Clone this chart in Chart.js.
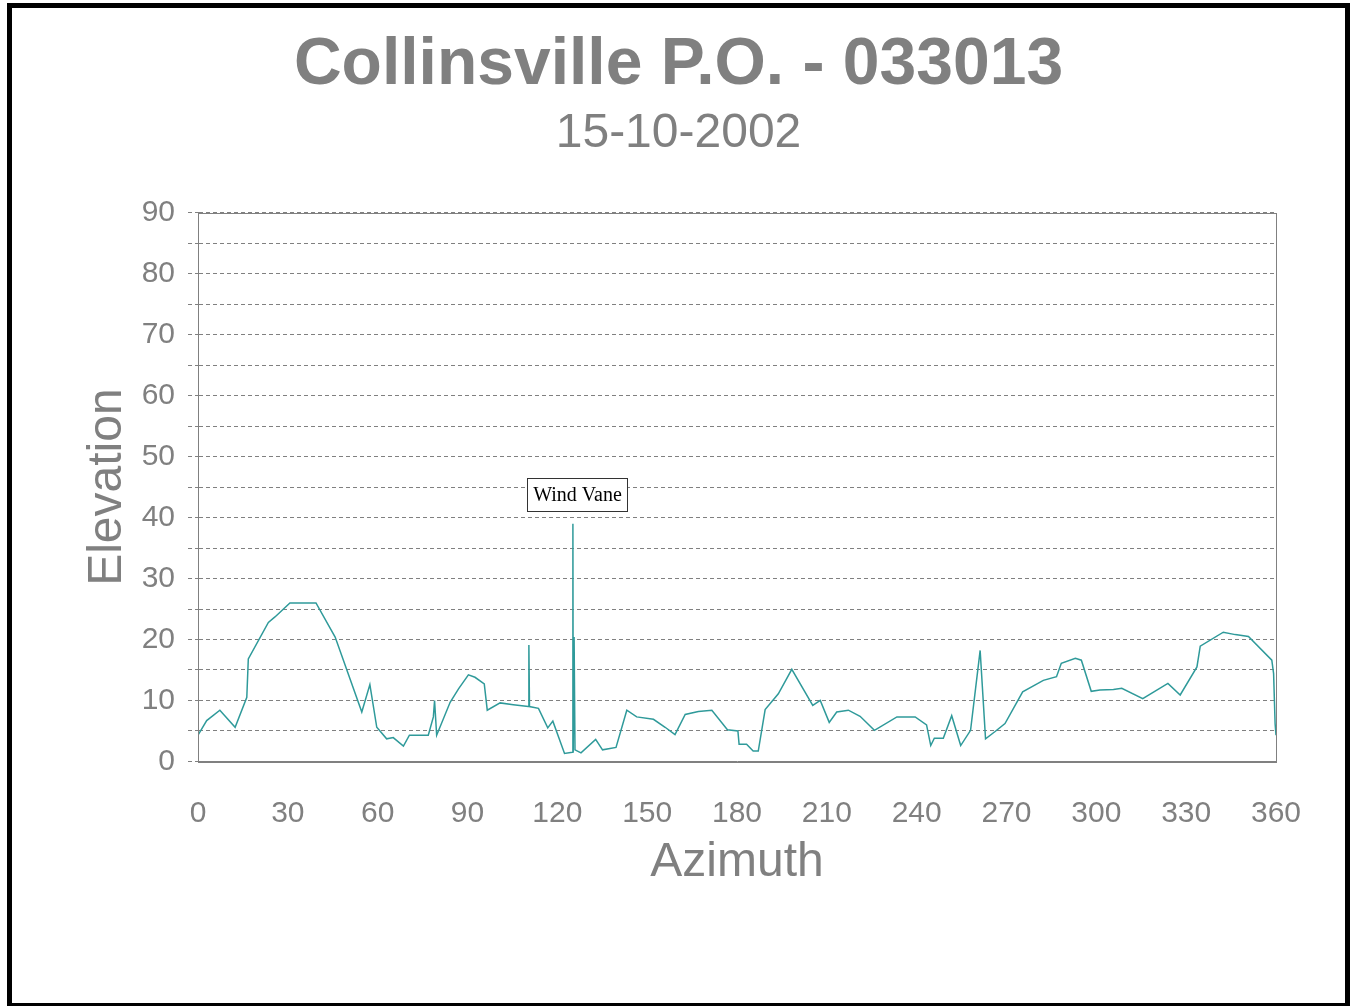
<!DOCTYPE html>
<html>
<head>
<meta charset="utf-8">
<script src="https://cdn.jsdelivr.net/npm/chart.js@4"></script>
<style>
  html, body { margin: 0; padding: 0; background: #fff; }
  #frame {
    position: absolute; left: 7px; top: 3px;
    width: 1333px; height: 995px;
    border-left: 5px solid #000; border-right: 5px solid #000;
    border-top: 5px solid #000; border-bottom: 3px solid #000;
    background: #fff;
  }
  #frame canvas { display: block; }
</style>
</head>
<body>
<div id="frame"><canvas id="chart" width="1333" height="995"></canvas></div>
<script>
// horizon profile
const azimuth = [0, 2.9, 7.3, 12.4, 16.3, 16.8, 23.5, 25.7, 30.7, 39.4, 45.8, 54.7, 57.4, 59.7, 63.0, 65.2, 68.6, 70.6, 76.9, 78.6,
  79.0, 79.7, 84.2, 87.0, 90.3, 92.5, 95.6, 96.6, 100.9, 105.3, 110.3, 110.5, 110.7, 113.7, 116.8, 118.5, 122.4, 125.0, 125.2, 125.3,
  125.6, 125.9, 127.9, 132.8, 135.1, 139.6, 143.2, 146.5, 152.1, 156.0, 159.3, 162.7, 167.1, 171.6, 176.8, 180.3, 180.7, 183.2, 185.4, 187.1,
  189.4, 193.8, 198.3, 205.3, 207.8, 210.8, 213.3, 217.2, 221.1, 225.9, 233.4, 239.5, 243.3, 244.7, 245.9, 248.9, 251.7, 254.7, 258.0, 261.2,
  263.0, 266.2, 269.5, 275.4, 282.3, 286.7, 288.3, 293.0, 295.0, 298.3, 301.2, 305.7, 308.5, 315.5, 323.9, 328.0, 333.6, 334.7, 342.4, 346.4,
  350.8, 358.6, 359.2, 359.7, 360];
const elevation = [4.3, 6.7, 8.4, 5.6, 10.5, 16.8, 22.8, 23.7, 26.0, 26.0, 20.4, 8.1, 12.6, 5.6, 3.7, 3.9, 2.5, 4.3, 4.3, 7.3,
  10.0, 4.3, 9.7, 11.9, 14.2, 13.8, 12.7, 8.4, 9.6, 9.3, 9.0, 19.1, 9.0, 8.7, 5.5, 6.6, 1.3, 1.5, 39.0, 1.5,
  20.4, 1.9, 1.4, 3.6, 1.9, 2.3, 8.4, 7.3, 6.9, 5.6, 4.4, 7.7, 8.2, 8.4, 5.2, 5.0, 2.8, 2.8, 1.7, 1.7,
  8.5, 11.1, 15.1, 9.2, 10.0, 6.4, 8.1, 8.4, 7.4, 5.1, 7.3, 7.3, 6.0, 2.6, 3.8, 3.8, 7.5, 2.6, 5.1, 18.2,
  3.7, 4.9, 6.2, 11.4, 13.3, 13.9, 16.1, 16.9, 16.6, 11.5, 11.7, 11.8, 12.0, 10.3, 12.8, 10.9, 15.5, 18.9, 21.2, 20.8,
  20.5, 16.6, 14.4, 6.2, 4.3];
const xTicks = [0, 30, 60, 90, 120, 150, 180, 210, 240, 270, 300, 330, 360];
const yTicks = [0, 10, 20, 30, 40, 50, 60, 70, 80, 90];
const noteLabel = 'Wind Vane';
const noteAzimuth = 125.2;
const noteElevation = 39.0;

const grey = '#808080';
const font = "'Liberation Sans', Arial, sans-serif";

const points = azimuth.map((a, i) => ({ x: a, y: elevation[i] }));

// solid frame around the plot area + the callout box
const extras = {
  id: 'extras',
  afterDraw(chart) {
    const { ctx, chartArea: a, scales } = chart;
    ctx.save();
    ctx.strokeStyle = grey;
    ctx.lineWidth = 1;
    ctx.strokeRect(Math.round(a.left) + 0.5, Math.round(a.top) + 0.5, Math.round(a.right - a.left), Math.round(a.bottom - a.top));

    const px = scales.x.getPixelForValue(noteAzimuth);
    const py = scales.y.getPixelForValue(noteElevation);
    const w = 100, h = 33;
    const bx = Math.round(px - 46) + 0.5, by = Math.round(py - 46) + 0.5;
    ctx.fillStyle = '#fff';
    ctx.fillRect(bx, by, w, h);
    ctx.strokeStyle = '#333';
    ctx.strokeRect(bx, by, w, h);
    ctx.fillStyle = '#000';
    ctx.font = "20px 'Liberation Serif', 'Times New Roman', serif";
    ctx.textAlign = 'center';
    ctx.textBaseline = 'middle';
    ctx.fillText(noteLabel, bx + w / 2, by + h / 2 + 1);
    ctx.restore();
  }
};

new Chart(document.getElementById('chart'), {
  type: 'scatter',
  data: {
    datasets: [{
      data: points,
      showLine: true,
      borderColor: '#2f9a9a',
      borderWidth: 1.5,
      pointRadius: 0,
      tension: 0
    }]
  },
  options: {
    responsive: false,
    animation: false,
    layout: { padding: { left: 0, right: 0, top: 0, bottom: 111 } },
    plugins: {
      legend: { display: false },
      tooltip: { enabled: false },
      title: {
        display: true,
        text: 'Collinsville P.O. - 033013',
        color: grey,
        font: { family: font, size: 66, weight: 'bold' },
        padding: { top: 18, bottom: 0 }
      },
      subtitle: {
        display: true,
        text: '15-10-2002',
        color: grey,
        font: { family: font, size: 48 },
        padding: { top: 0, bottom: 50 }
      }
    },
    scales: {
      x: {
        type: 'linear',
        min: 0,
        max: 360,
        afterBuildTicks: (s) => { s.ticks = xTicks.map((v) => ({ value: v })); },
        ticks: { color: grey, font: { family: font, size: 30 }, padding: 34, maxRotation: 0, autoSkip: false },
        grid: { display: false, drawTicks: false },
        border: { color: grey, width: 1 },
        title: {
          display: true, text: 'Azimuth', color: grey,
          font: { family: font, size: 48 }, padding: { top: -31, bottom: 0 }
        }
      },
      y: {
        min: 0,
        max: 90,
        afterBuildTicks: (s) => {
          const t = [];
          for (let v = 0; v <= 90; v += 5) t.push({ value: v });
          s.ticks = t;
        },
        afterFit: (s) => { s.width = 186; },
        ticks: {
          color: grey,
          font: { family: font, size: 30 },
          padding: 13,
          autoSkip: false,
          callback: (v) => (yTicks.includes(v) ? String(v) : '')
        },
        grid: { color: grey, lineWidth: 1, tickLength: 10, tickBorderDash: [4, 3] },
        border: { color: grey, width: 1, dash: [4, 3] },
        title: {
          display: true, text: 'Elevation', color: grey,
          font: { family: font, size: 48 }, padding: { top: 67, bottom: 0 }
        }
      },
      // empty right-hand axis keeping the plot clear of the frame, so the titles stay centred on the page
      spacer: {
        type: 'linear',
        position: 'right',
        display: true,
        afterFit: (s) => { s.width = 69; },
        ticks: { display: false },
        grid: { display: false, drawTicks: false },
        border: { display: false }
      }
    }
  },
  plugins: [extras]
});
</script>
</body>
</html>
